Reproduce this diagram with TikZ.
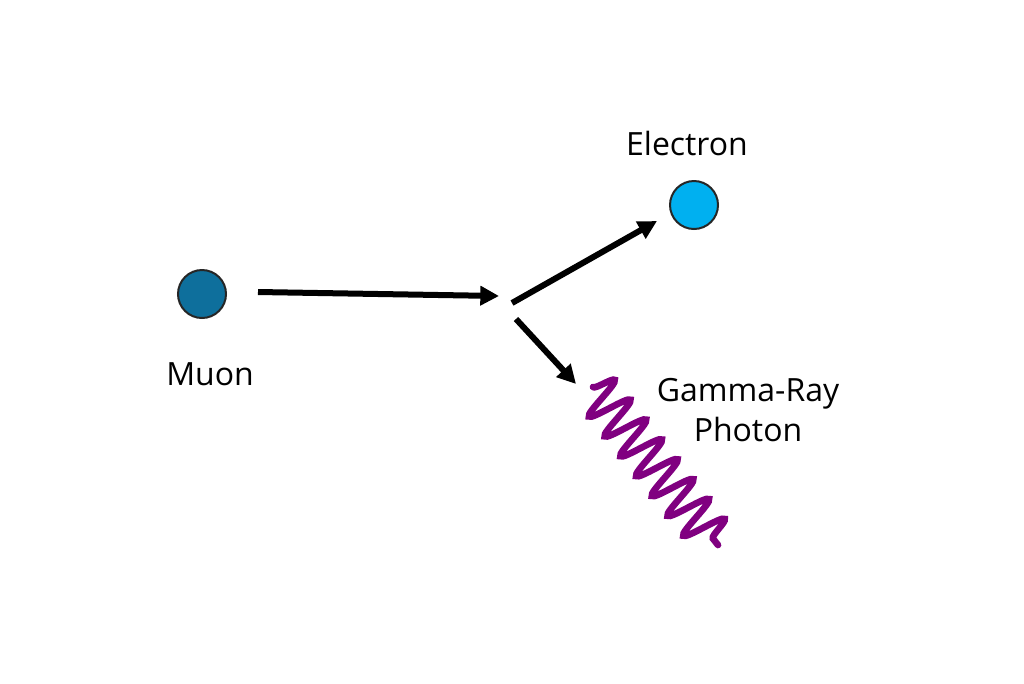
\documentclass[tikz,border=0pt]{standalone}
\usepackage{fontspec}
\setmainfont{Open Sans}
\usetikzlibrary{decorations.pathmorphing,arrows.meta}
\definecolor{muon}{HTML}{0E6F9C}
\definecolor{elec}{HTML}{00B0F0}
\definecolor{phot}{HTML}{800080}
\begin{document}
\begin{tikzpicture}[x=0.75pt,y=-0.75pt,
  particle/.style={circle,draw=black!85,line width=1.5pt,minimum size=36pt,inner sep=0},
  lbl/.style={font=\fontsize{24}{30}\selectfont,align=center},
  arr/.style={line width=4.5pt,-{Triangle[length=14pt,width=14pt]}}]
\useasboundingbox (0,0) rectangle (1024,683);
\node[particle,fill=muon] (mu) at (202,294) {};
\node[particle,fill=elec] (e) at (694,205) {};
\node[lbl] (lmu) at (210,374) {Muon};
\node[lbl] (le) at (687,143) {Electron};
\node[lbl] (lg) at (748,410) {Gamma-Ray\\Photon};
\coordinate (a1) at (258,292); \coordinate (a2) at (499,296);
\coordinate (b1) at (512,303); \coordinate (b2) at (657,221);
\coordinate (c1) at (516,319); \coordinate (c2) at (576,384);
\coordinate (w1) at (593,387); \coordinate (w2) at (718,545);
\draw[arr] (a1) -- (a2);
\draw[arr] (b1) -- (b2);
\draw[arr] (c1) -- (c2);
\draw[phot,line width=5pt,line cap=round,decorate,decoration={snake,segment length=19,amplitude=16}] (w1) -- (w2);
\end{tikzpicture}
\end{document}
